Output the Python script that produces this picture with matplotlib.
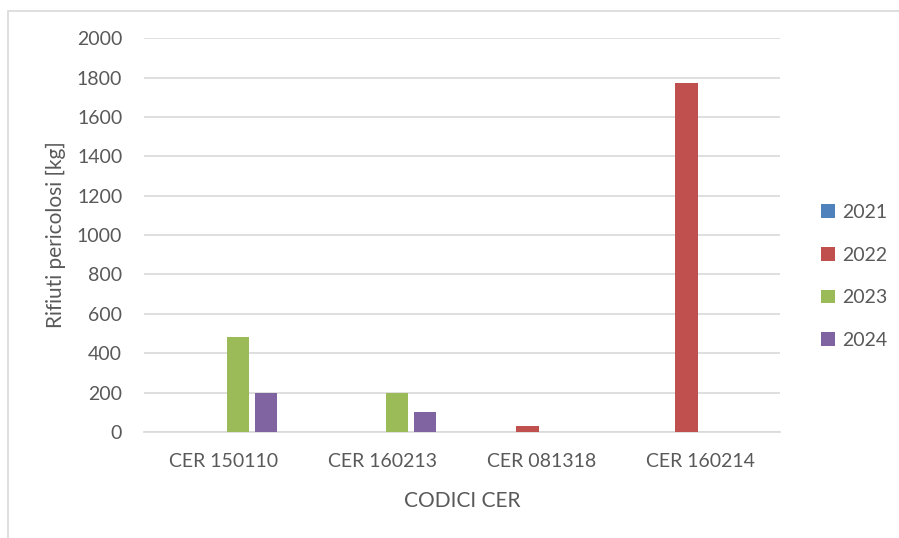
import matplotlib
matplotlib.use("Agg")
import matplotlib.pyplot as plt
import numpy as np
from matplotlib.patches import Rectangle

plt.rcParams["font.family"] = ["Lato", "DejaVu Sans"]

# data
categories = ["CER 150110", "CER 160213", "CER 081318", "CER 160214"]
years = ["2021", "2022", "2023", "2024"]
values_2021 = [0, 0, 0, 0]
values_2022 = [0, 0, 33, 1770]
values_2023 = [480, 200, 2, 0]
values_2024 = [200, 100, 0, 0]
yticks = [0, 200, 400, 600, 800, 1000, 1200, 1400, 1600, 1800, 2000]

series = [values_2021, values_2022, values_2023, values_2024]
colors = ["#4F81BD", "#C0504D", "#9BBB59", "#8064A2"]
text_c = "#595959"
grid_c = "#D9D9D9"

fig = plt.figure(figsize=(8.99, 5.38), dpi=100)
ax = fig.add_axes([0.1607, 0.197, 0.707, 0.732])

# outer chart frame
fig.patches.append(Rectangle((8 / 899, -0.05), 1.0, 1 - 11 / 538 + 0.05,
                             transform=fig.transFigure, fill=False,
                             edgecolor=grid_c, linewidth=1.2))

x = np.arange(len(categories))
step = 0.176
width = 0.1415
for i, (vals, c) in enumerate(zip(series, colors)):
    ax.bar(x + (i - 1.5) * step, vals, width=width, color=c,
           label=years[i], zorder=3)

ax.set_xlim(-0.5, len(categories) - 0.5)
ax.set_ylim(0, 2000)
ax.set_yticks(yticks)
ax.set_xticks(x)
ax.set_xticklabels(categories)
ax.tick_params(axis="both", length=0, colors=text_c, labelsize=14)
ax.tick_params(axis="y", pad=16)
ax.tick_params(axis="x", pad=15)
ax.yaxis.grid(True, color=grid_c, linewidth=1.2, zorder=0)
for s in ["top", "right", "left"]:
    ax.spines[s].set_visible(False)
ax.spines["bottom"].set_color(grid_c)
ax.spines["bottom"].set_linewidth(1.2)

ax.set_xlabel("CODICI CER", color=text_c, fontsize=15, labelpad=15)
ax.set_ylabel("Rifiuti pericolosi [kg]", color=text_c, fontsize=15, labelpad=8)

leg = ax.legend(loc="center left", bbox_to_anchor=(1.037, 0.395), frameon=False,
                fontsize=14, handlelength=0.7, handleheight=0.7,
                handletextpad=0.4, labelspacing=1.32, labelcolor=text_c)

plt.savefig("out.png", dpi=100)
